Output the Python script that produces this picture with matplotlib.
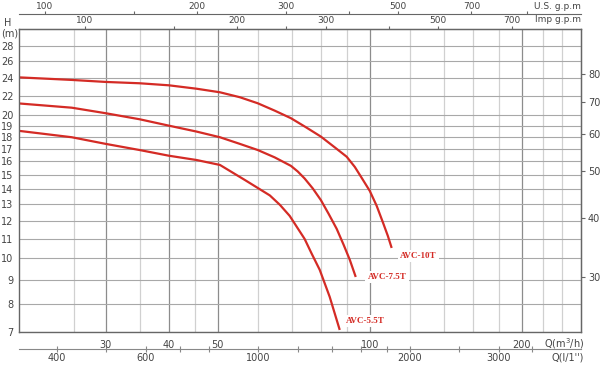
import matplotlib
matplotlib.use("Agg")
from matplotlib import pyplot as plt
from matplotlib.ticker import FixedLocator, FixedFormatter, NullLocator

# pump curves, Q in m3/h, H in m
q_10 = [20, 25.7, 30, 35, 40, 45.4, 50.5, 55.3, 60, 64.8, 69.8, 74.7, 80, 85.3, 90, 93.4,
        96.4, 100, 103.2, 106.1, 108.6, 110.5]
h_10 = [24.06, 23.75, 23.52, 23.37, 23.14, 22.76, 22.37, 21.84, 21.21, 20.47, 19.73, 18.89,
        18.05, 17.12, 16.37, 15.58, 14.77, 13.87, 12.9, 11.93, 11.15, 10.52]
q_75 = [20, 25.7, 30, 35, 40, 45.4, 50.5, 55.3, 60, 64.8, 69.8, 72.0, 74.3, 77.1, 80, 82.9,
        86.0, 88.8, 91.3, 93.8]
h_75 = [21.21, 20.76, 20.21, 19.63, 19.03, 18.49, 17.99, 17.42, 16.91, 16.32, 15.66, 15.24,
        14.73, 14.04, 13.27, 12.41, 11.54, 10.67, 9.93, 9.14]
q_55 = [20, 25.7, 30, 35, 40, 45.4, 50.5, 56.6, 63.4, 66.4, 69.4, 74.3, 76.7, 79.6, 83.3, 87.2]
h_55 = [18.58, 17.99, 17.42, 16.91, 16.45, 16.11, 15.73, 14.62, 13.57, 12.96, 12.29, 10.99,
        10.24, 9.46, 8.30, 7.07]
names = ["AVC-10T", "AVC-7.5T", "AVC-5.5T"]
label_q = [114.7, 99, 89.6]
label_h = [10.1, 9.12, 7.37]

h_ticks = [7, 8, 9, 10, 11, 12, 13, 14, 15, 16, 17, 18, 19, 20, 22, 24, 26, 28]
q_major = [30, 40, 50, 100, 200]
q_minor = [26, 35, 45, 60, 70, 80, 90, 120, 140, 160, 180, 220, 240]
ft_ticks = [30, 40, 50, 60, 70, 80]
imp_ticks = [100, 150, 200, 250, 300, 400, 500, 700]
imp_labels = ["100", "", "200", "", "300", "", "500", "700"]
us_ticks = [100, 150, 200, 300, 400, 500, 700, 900]
us_labels = ["100", "", "200", "300", "", "500", "700", ""]
lpm_ticks = [400, 500, 600, 700, 800, 1000, 1200, 1400, 1600, 1800, 2000, 2500, 3000, 3500]
lpm_labels = ["400", "", "600", "", "", "1000", "", "", "", "", "2000", "", "3000", ""]

red = "#d42b25"
txt = "#444444"

fig = plt.figure(figsize=(6, 3.65), dpi=100)
ax = fig.add_axes([19 / 600, 33 / 365, 562 / 600, 303 / 365])
ax.set_xscale("log")
ax.set_yscale("log")
ax.set_xlim(20.2, 262)
ax.set_ylim(7, 30.4)

ax.xaxis.set_major_locator(FixedLocator(q_major))
ax.xaxis.set_major_formatter(FixedFormatter([str(v) for v in q_major]))
ax.xaxis.set_minor_locator(FixedLocator(q_minor))
ax.xaxis.set_minor_formatter(FixedFormatter([""] * len(q_minor)))
ax.yaxis.set_major_locator(FixedLocator(h_ticks))
ax.yaxis.set_major_formatter(FixedFormatter([str(v) for v in h_ticks]))
ax.yaxis.set_minor_locator(NullLocator())
ax.tick_params(axis="both", which="both", length=0, labelsize=7, labelcolor=txt)
ax.tick_params(axis="x", pad=6)
ax.tick_params(axis="y", pad=4)

ax.grid(True, axis="x", which="major", color="#8c8c8c", lw=0.9)
ax.grid(True, axis="x", which="minor", color="#d0d0d0", lw=0.9)
ax.grid(True, axis="y", which="major", color="#a8a8a8", lw=0.8)
ax.set_axisbelow(True)
for s in ax.spines.values():
    s.set_color("#666666")
    s.set_linewidth(1.0)

ax.plot(q_10, h_10, color=red, lw=1.6, solid_capstyle="butt", solid_joinstyle="round")
ax.plot(q_75, h_75, color=red, lw=1.6, solid_capstyle="butt", solid_joinstyle="round")
ax.plot(q_55, h_55, color=red, lw=1.6, solid_capstyle="butt", solid_joinstyle="round")
for n, xq, yh in zip(names, label_q, label_h):
    ax.text(xq, yh, n, color=red, fontsize=6.5, family="Liberation Serif", weight="bold",
            ha="left", va="center",
            bbox=dict(facecolor="white", edgecolor="none", pad=1.5))

# right axis in feet
ft = ax.secondary_yaxis("right", functions=(lambda m: m * 3.2808, lambda f: f / 3.2808))
ft.yaxis.set_major_locator(FixedLocator(ft_ticks))
ft.yaxis.set_major_formatter(FixedFormatter([str(v) for v in ft_ticks]))
ft.yaxis.set_minor_locator(NullLocator())
ft.tick_params(length=3, labelsize=7, labelcolor=txt, color="#666666", pad=2)
ft.spines["right"].set_color("#666666")

# top axes in gallons per minute
imp = ax.secondary_xaxis("top", functions=(lambda q: q * 3.666, lambda g: g / 3.666))
imp.xaxis.set_major_locator(FixedLocator(imp_ticks))
imp.xaxis.set_major_formatter(FixedFormatter(imp_labels))
imp.xaxis.set_minor_locator(NullLocator())
imp.tick_params(length=2.5, labelsize=6.5, labelcolor=txt, color="#666666", pad=0.5)
imp.spines["top"].set_color("#666666")

us = ax.secondary_xaxis(1.0495, functions=(lambda q: q * 4.403, lambda g: g / 4.403))
us.xaxis.set_major_locator(FixedLocator(us_ticks))
us.xaxis.set_major_formatter(FixedFormatter(us_labels))
us.xaxis.set_minor_locator(NullLocator())
us.tick_params(length=2.5, labelsize=6.5, labelcolor=txt, color="#666666", pad=0)
us.spines["top"].set_color("#666666")

# bottom axis in litres per minute
lpm = ax.secondary_xaxis(-0.056, functions=(lambda q: q * 16.667, lambda l: l / 16.667))
lpm.xaxis.set_major_locator(FixedLocator(lpm_ticks))
lpm.xaxis.set_major_formatter(FixedFormatter(lpm_labels))
lpm.xaxis.set_minor_locator(NullLocator())
lpm.tick_params(length=4, direction="inout", labelsize=7, labelcolor=txt, color="#888888", pad=1)
lpm.spines["bottom"].set_color("#888888")

fig.text(8 / 600, 1 - 23 / 365, "H", fontsize=7, color=txt, ha="center", va="center")
fig.text(10 / 600, 1 - 33 / 365, "(m)", fontsize=7, color=txt, ha="center", va="center")
fig.text(581 / 600, 1 - 6.5 / 365, "U.S. g.p.m", fontsize=6.5, color=txt, ha="right", va="center")
fig.text(581 / 600, 1 - 20 / 365, "Imp g.p.m", fontsize=6.5, color=txt, ha="right", va="center")
fig.text(584 / 600, 1 - 344 / 365, "Q(m$^3$/h)", fontsize=7, color=txt, ha="right", va="center")
fig.text(584 / 600, 1 - 357 / 365, "Q(l/1'')", fontsize=7, color=txt, ha="right", va="center")

fig.savefig("out.png", dpi=100, facecolor="white")
